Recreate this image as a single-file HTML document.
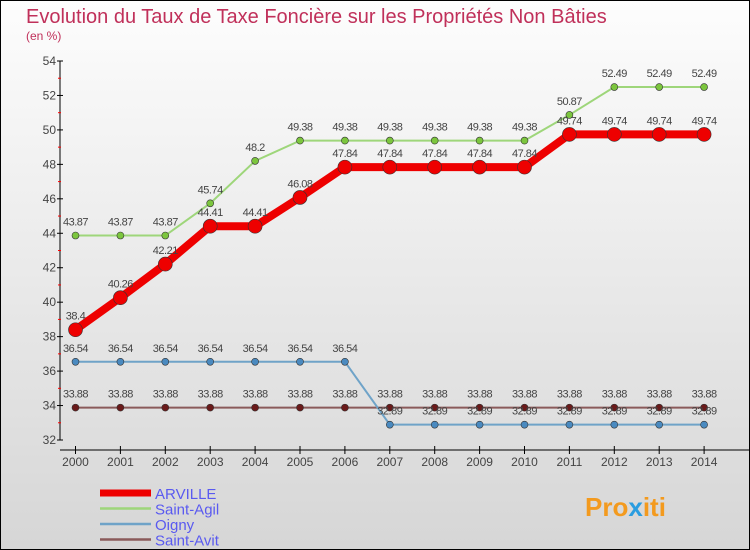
<!DOCTYPE html>
<html><head><meta charset="utf-8"><style>
body{margin:0}
#c{width:750px;height:550px;position:relative;overflow:hidden;box-sizing:border-box;border:1px solid #000;background:linear-gradient(#fdfdfd,#d6d6d6);font-family:"Liberation Sans",sans-serif}
</style></head><body>
<div id="c">
<svg width="750" height="550" style="position:absolute;left:-1px;top:-1px">
<text x="26" y="23" font-size="20" fill="#c0305a">Evolution du Taux de Taxe Foncière sur les Propriétés Non Bâties</text>
<text x="26" y="40" font-size="12" fill="#c0305a">(en %)</text>
<g id="axes"></g><g id="series"></g><g id="legend"></g>
<text x="585" y="516" font-size="26" font-weight="bold" fill="#f39a1e">Pro<tspan fill="#2a9de0">x</tspan>iti</text>
</svg>
</div>
<script>
const years=[2000,2001,2002,2003,2004,2005,2006,2007,2008,2009,2010,2011,2012,2013,2014];
const yTicks=[32,34,36,38,40,42,44,46,48,50,52,54];
const arville=[38.4,40.26,42.21,44.41,44.41,46.08,47.84,47.84,47.84,47.84,47.84,49.74,49.74,49.74,49.74];
const oigny=[36.54,36.54,36.54,36.54,36.54,36.54,36.54,32.89,32.89,32.89,32.89,32.89,32.89,32.89,32.89];
const saintAgil=[43.87,43.87,43.87,45.74,48.2,49.38,49.38,49.38,49.38,49.38,49.38,50.87,52.49,52.49,52.49];
const saintAvit=[33.88,33.88,33.88,33.88,33.88,33.88,33.88,33.88,33.88,33.88,33.88,33.88,33.88,33.88,33.88];
const NS='http://www.w3.org/2000/svg';
const xs=i=>75.5+i*44.9;
const ys=v=>440-(v-32)*(379/22);
function mk(t,a,p){const e=document.createElementNS(NS,t);for(const k in a)e.setAttribute(k,a[k]);p.appendChild(e);return e;}
const ax=document.getElementById('axes');
let l=mk('line',{x1:60,y1:ys(54),x2:60,y2:ys(32),stroke:'#000'},ax);


l=mk('line',{x1:60,y1:450,x2:750,y2:450,stroke:'#000'},ax);


yTicks.forEach((v,i)=>{
 mk('line',{x1:57,x2:63,y1:ys(v),y2:ys(v),stroke:'#000'},ax);
 if(i<yTicks.length-1) mk('line',{x1:58,x2:61,y1:ys(v+1),y2:ys(v+1),stroke:'#f00'},ax);
 const t=mk('text',{x:56,y:ys(v)+4,'font-size':12,fill:'#444','text-anchor':'end'},ax);t.textContent=v;
 
 
});
years.forEach((y,i)=>{
 mk('line',{x1:xs(i),x2:xs(i),y1:446,y2:454,stroke:'#000'},ax);
 const t=mk('text',{x:xs(i),y:466,'font-size':12,fill:'#444','text-anchor':'middle'},ax);t.textContent=y;
 
 
});
const sg=document.getElementById('series');
const ser=[
 {n:'saint-avit',d:saintAvit,c:'#8a5a5a',p:'#6a1a1a',w:2,r:3.5,lab:'Saint-Avit'},
 {n:'oigny',d:oigny,c:'#6fa3c8',p:'#4a8ac0',w:2,r:3.5,lab:'Oigny'},
 {n:'saint-agil',d:saintAgil,c:'#9ed67a',p:'#7cc63e',w:2,r:3.5,lab:'Saint-Agil'},
 {n:'arville',d:arville,c:'#ee0000',p:'#ee0000',w:8,r:7,lab:'ARVILLE'}];
ser.forEach(s=>{
 const g=mk('g',{},sg);
 
 
 const pl=mk('polyline',{points:s.d.map((v,i)=>xs(i)+','+ys(v)).join(' '),fill:'none',stroke:s.c,'stroke-width':s.w},g);
 
 
 s.d.forEach((v,i)=>{
  const c=mk('circle',{cx:xs(i),cy:ys(v),r:s.r,fill:s.p,stroke:'#333','stroke-width':0.6},g);
  
  
  const t=mk('text',{x:xs(i),y:ys(v)-10,'font-size':11,fill:'#444','text-anchor':'middle','letter-spacing':'-0.5'},g);t.textContent=v;
  
  
 });
});
const lg=document.getElementById('legend');
[...ser].reverse().forEach((s,i)=>{
 const y=493+i*15.5;
 const g=mk('g',{},lg);
 
 
 mk('line',{x1:100,x2:151,y1:y,y2:y,stroke:s.c,'stroke-width':s.w===8?7:2.5},g);
 const t=mk('text',{x:155,y:y+6,'font-size':15,fill:'#5a5af0'},g);t.textContent=s.lab;
});
</script>
</body></html>
